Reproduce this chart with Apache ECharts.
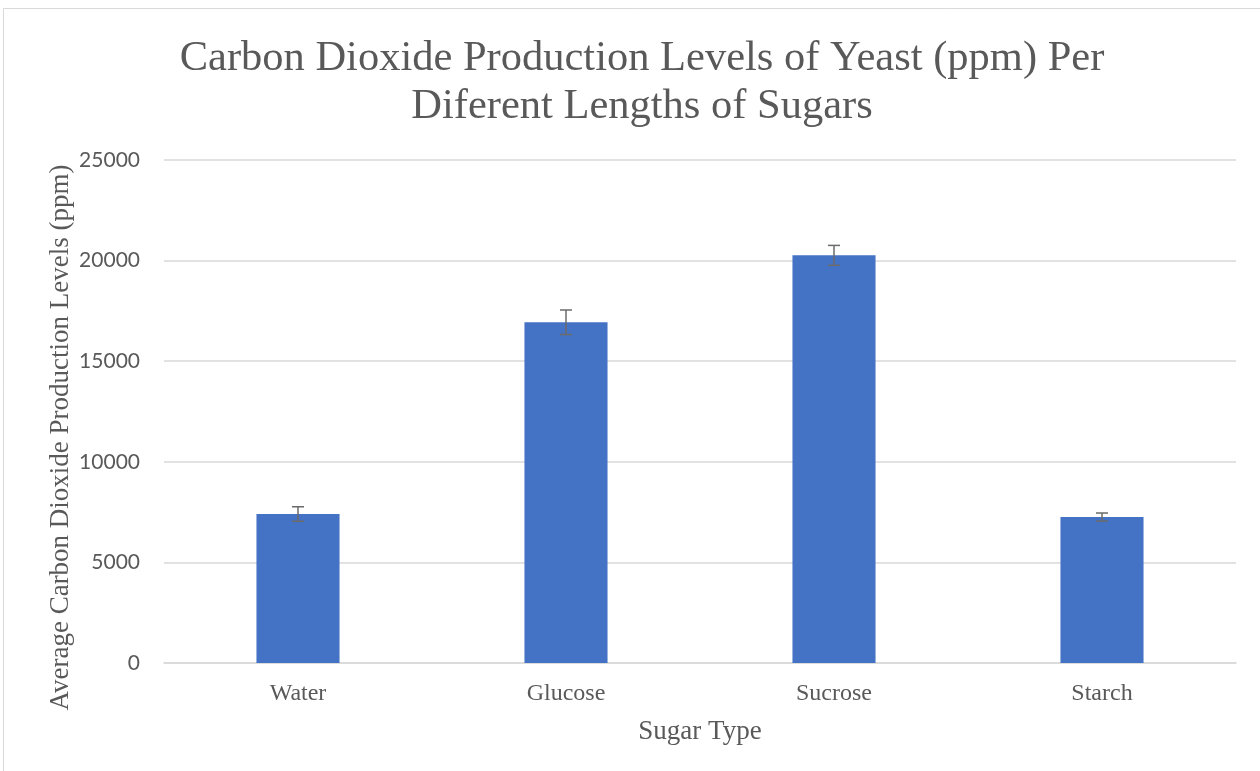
<!DOCTYPE html>
<html>
<head>
<meta charset="utf-8">
<script src="https://cdn.jsdelivr.net/npm/echarts@6/dist/echarts.min.js"></script>
<style>
html,body{margin:0;padding:0;background:#fff;}
#chart{width:1260px;height:771px;}
</style>
</head>
<body>
<div id="chart"></div>
<script>
const categories = ['Water', 'Glucose', 'Sucrose', 'Starch'];
const meanValues = [7405, 16935, 20260, 7255];
const errorValues = [360, 610, 495, 200];
const yTicks = [0, 5000, 10000, 15000, 20000, 25000];

const chart = echarts.init(document.getElementById('chart'));
const serif = '"Liberation Serif", "Times New Roman", serif';
const sans = 'Lato, "Open Sans", sans-serif';
const errData = categories.map((c, i) => [i, meanValues[i] - errorValues[i], meanValues[i] + errorValues[i]]);

chart.setOption({
  backgroundColor: '#ffffff',
  animation: false,
  title: {
    text: 'Carbon Dioxide Production Levels of Yeast (ppm) Per\nDiferent Lengths of Sugars',
    left: 637, top: 30, textAlign: 'center',
    textStyle: {fontFamily: serif, fontSize: 42.5, fontWeight: 'normal', color: '#595959', lineHeight: 48}
  },
  graphic: [{
    type: 'rect', shape: {x: 3.5, y: 8.5, width: 1300, height: 800},
    style: {fill: 'none', stroke: '#d9d9d9', lineWidth: 1}, silent: true
  }],
  grid: {left: 164, right: 24, top: 160, bottom: 108},
  xAxis: {
    type: 'category', data: categories,
    axisLine: {show: true, lineStyle: {color: '#d9d9d9', width: 1.5}},
    axisTick: {show: false},
    axisLabel: {fontFamily: serif, fontSize: 24, color: '#595959', margin: 19},
    name: 'Sugar Type', nameLocation: 'middle', nameGap: 55, nameMoveOverlap: false,
    nameTextStyle: {fontFamily: serif, fontSize: 27, color: '#595959'}
  },
  yAxis: {
    type: 'value', min: yTicks[0], max: yTicks[yTicks.length - 1], interval: yTicks[1] - yTicks[0],
    axisLine: {show: false}, axisTick: {show: false},
    splitLine: {lineStyle: {color: '#d9d9d9', width: 1.5}},
    axisLabel: {fontFamily: sans, fontSize: 21, color: '#595959', margin: 24,
      formatter: function (v) { return String(v); }},
    name: 'Average Carbon Dioxide Production Levels (ppm)', nameLocation: 'middle', nameGap: 90,
    nameMoveOverlap: false,
    nameTextStyle: {fontFamily: serif, fontSize: 27, color: '#595959', padding: [0, 52, 0, 0]}
  },
  series: [{
    type: 'bar', data: meanValues, barWidth: '31%',
    itemStyle: {color: '#4472C4'}
  }, {
    type: 'custom', data: errData, z: 10,
    renderItem: function (params, api) {
      const x = api.value(0);
      const lo = api.coord([x, api.value(1)]);
      const hi = api.coord([x, api.value(2)]);
      const hw = 6;
      const st = {stroke: '#6b6b6b', lineWidth: 1.5};
      return {type: 'group', children: [
        {type: 'line', shape: {x1: lo[0], y1: lo[1], x2: hi[0], y2: hi[1]}, style: st},
        {type: 'line', shape: {x1: lo[0] - hw, y1: lo[1], x2: lo[0] + hw, y2: lo[1]}, style: st},
        {type: 'line', shape: {x1: hi[0] - hw, y1: hi[1], x2: hi[0] + hw, y2: hi[1]}, style: st}
      ]};
    }
  }]
});
</script>
</body>
</html>
